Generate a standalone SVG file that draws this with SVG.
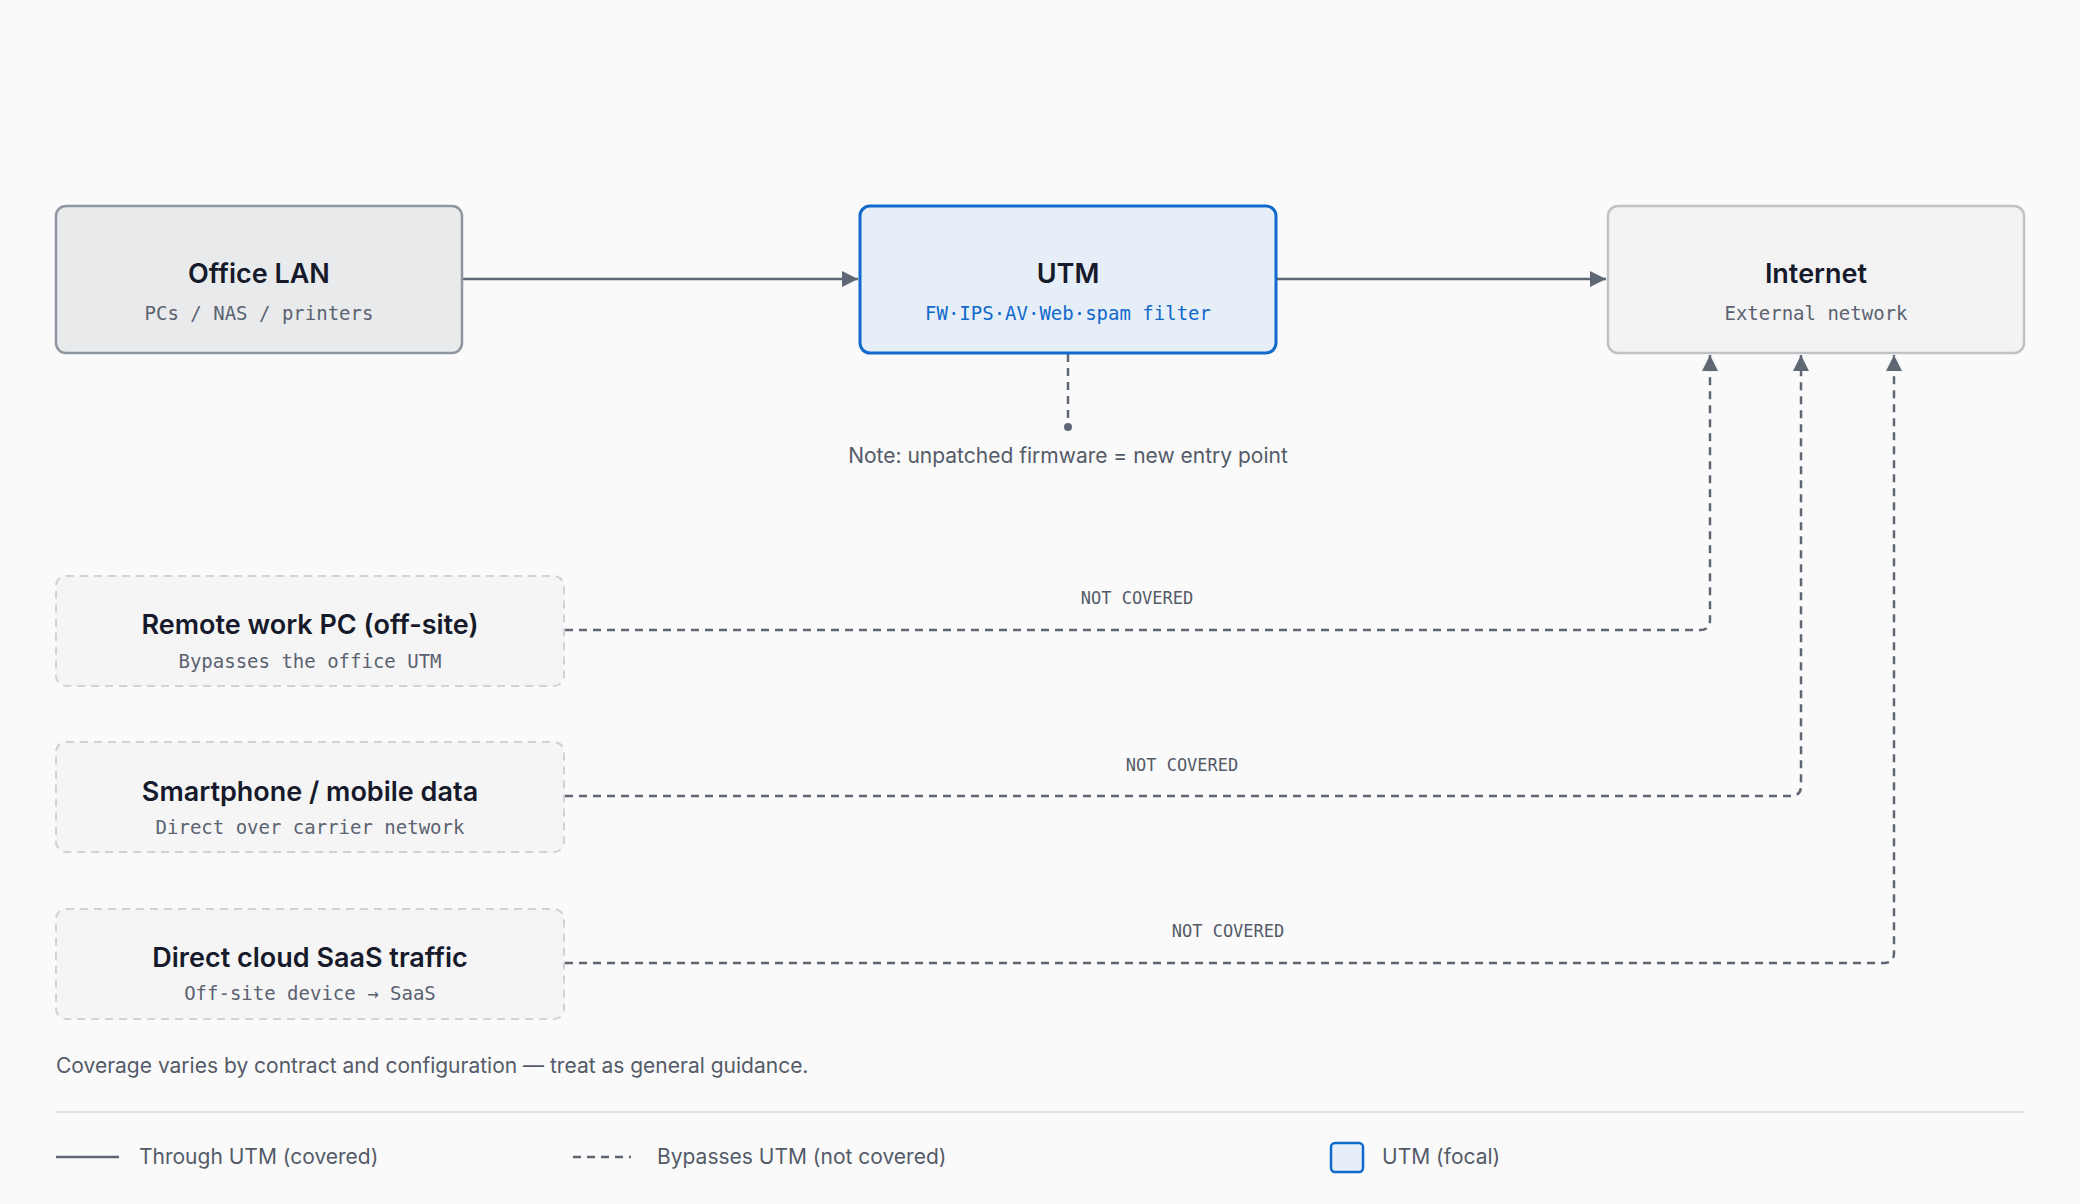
<svg xmlns="http://www.w3.org/2000/svg" width="2080" height="1204" viewBox="0 0 2080 1204">
<style>
.t{font-family:Inter,"Liberation Sans",sans-serif;font-weight:600;font-size:27px;fill:#161a2b;text-anchor:middle}
.s{font-family:"DejaVu Sans Mono","Liberation Mono",monospace;font-size:19px;fill:#5b6270;text-anchor:middle}
.l{font-family:Inter,"Liberation Sans",sans-serif;font-size:21px;fill:#545b68}
.nc{font-family:"DejaVu Sans Mono","Liberation Mono",monospace;font-size:17px;fill:#545b68;text-anchor:middle}
.e{stroke:#5f6775;stroke-width:2.5;fill:none}
.d{stroke:#5f6775;stroke-width:2.5;fill:none;stroke-dasharray:8 6}
.b{fill:#f5f5f6;stroke:#d0d2d6;stroke-width:2;stroke-dasharray:8 6}
</style>
<defs>
<marker id="a" viewBox="0 0 10 10" refX="10" refY="5" markerWidth="8" markerHeight="8" markerUnits="userSpaceOnUse" orient="auto"><path d="M0 0L10 5L0 10z" fill="#5f6775"/></marker>
<marker id="ah" viewBox="0 0 10 10" refX="10" refY="5" markerWidth="18" markerHeight="16" markerUnits="userSpaceOnUse" orient="auto"><path d="M0 0L10 5L0 10z" fill="#5f6775"/></marker>
</defs>
<rect width="2080" height="1204" fill="#fafafa"/>
<g id="connectors">
<path class="e" d="M462 279H858" marker-end="url(#ah)"/>
<path class="e" d="M1276 279H1606" marker-end="url(#ah)"/>
<path class="d" d="M1068 354V426"/>
<circle cx="1068" cy="427" r="4" fill="#5f6775"/>
<path class="d" d="M565 630H1700Q1710 630 1710 620V355" marker-end="url(#ah)"/>
<path class="d" d="M565 796H1791Q1801 796 1801 786V355" marker-end="url(#ah)"/>
<path class="d" d="M565 963H1884Q1894 963 1894 953V355" marker-end="url(#ah)"/>
<text class="nc" x="1137" y="604">NOT COVERED</text>
<text class="nc" x="1182" y="771">NOT COVERED</text>
<text class="nc" x="1228" y="937">NOT COVERED</text>
</g>
<g id="office"><rect x="56" y="206" width="406" height="147" rx="10" fill="#e9eaec" stroke="#8f96a2" stroke-width="2.5"/><text class="t" x="259" y="283">Office LAN</text><text class="s" x="259" y="320">PCs / NAS / printers</text></g>
<g id="utm"><rect x="860" y="206" width="416" height="147" rx="10" fill="#e6eff8" stroke="#1169cc" stroke-width="3"/><text class="t" x="1068" y="283">UTM</text><text class="s" x="1068" y="320" style="fill:#1169cc">FW·IPS·AV·Web·spam filter</text></g>
<g id="internet"><rect x="1608" y="206" width="416" height="147" rx="10" fill="#f3f3f4" stroke="#c0c2c7" stroke-width="2.5"/><text class="t" x="1816" y="283">Internet</text><text class="s" x="1816" y="320">External network</text></g>
<text class="l" x="1068" y="463" text-anchor="middle">Note: unpatched firmware = new entry point</text>
<g id="remote"><rect class="b" x="56" y="576" width="508" height="110" rx="10"/><text class="t" x="310" y="634">Remote work PC (off-site)</text><text class="s" x="310" y="668">Bypasses the office UTM</text></g>
<g id="phone"><rect class="b" x="56" y="742" width="508" height="110" rx="10"/><text class="t" x="310" y="801">Smartphone / mobile data</text><text class="s" x="310" y="834">Direct over carrier network</text></g>
<g id="saas"><rect class="b" x="56" y="909" width="508" height="110" rx="10"/><text class="t" x="310" y="967">Direct cloud SaaS traffic</text><text class="s" x="310" y="1000">Off-site device → SaaS</text></g>
<text class="l" x="56" y="1073">Coverage varies by contract and configuration — treat as general guidance.</text>
<line x1="56" y1="1112" x2="2024" y2="1112" stroke="#e1e2e5" stroke-width="2"/>
<g id="legend">
<line class="e" x1="56" y1="1157" x2="119" y2="1157"/><text class="l" x="139" y="1164">Through UTM (covered)</text>
<line class="d" x1="573" y1="1157" x2="631" y2="1157"/><text class="l" x="657" y="1164">Bypasses UTM (not covered)</text>
<rect x="1331" y="1143" width="32" height="29" rx="4" fill="#e6eff8" stroke="#1169cc" stroke-width="2.5"/><text class="l" x="1382" y="1164">UTM (focal)</text>
</g>
</svg>
